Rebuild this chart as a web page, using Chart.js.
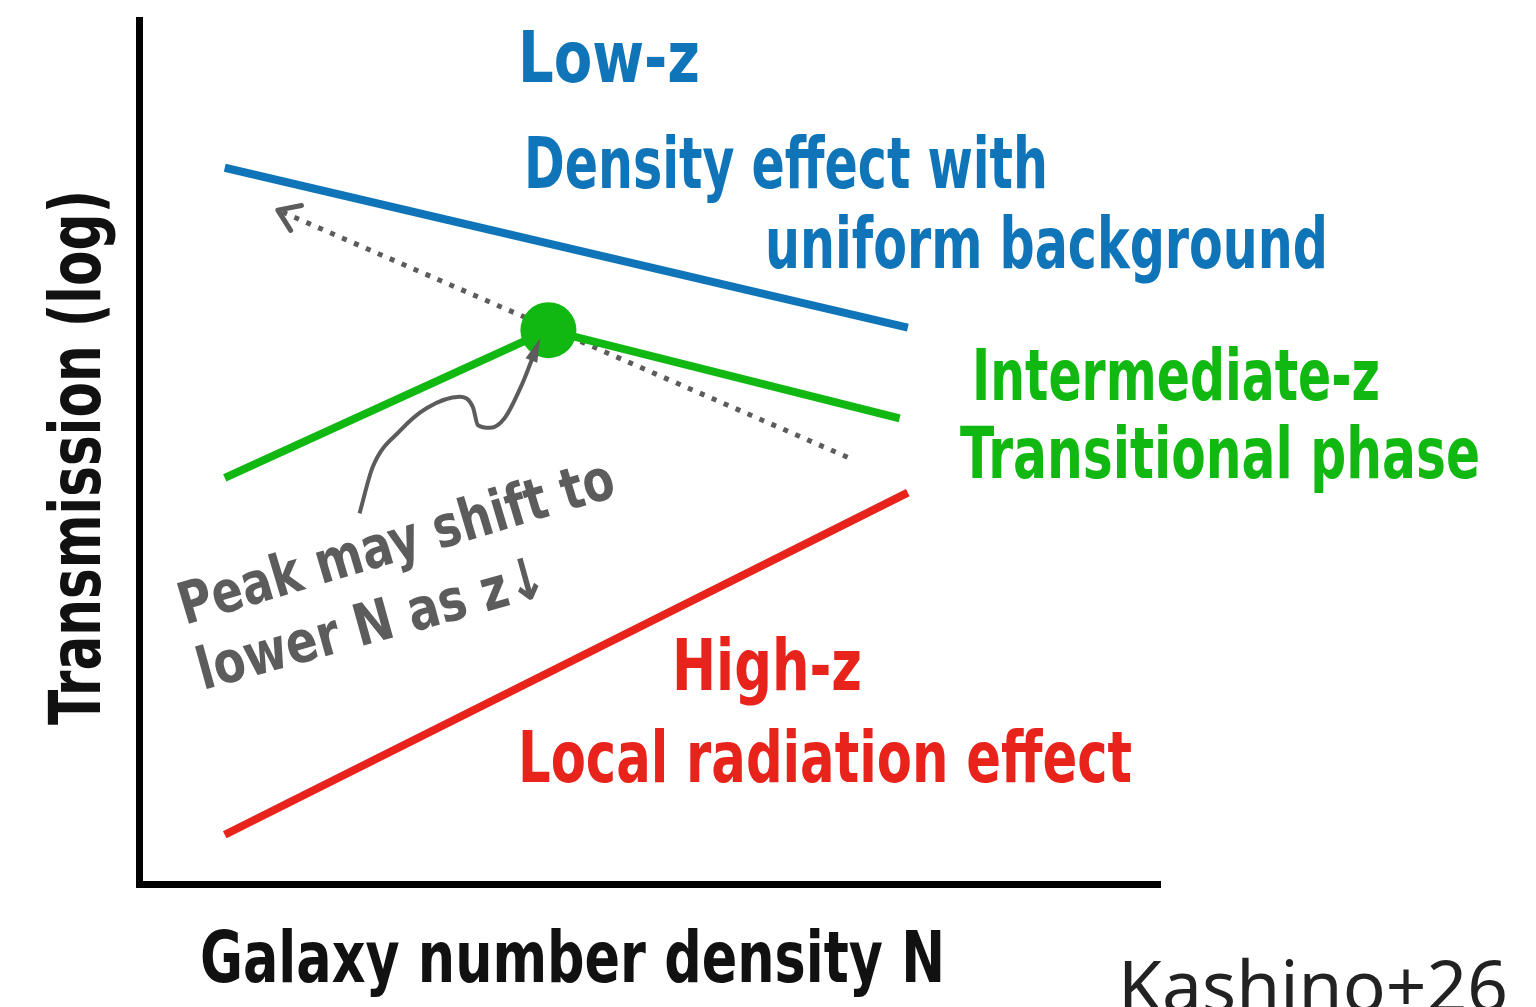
<!DOCTYPE html>
<html>
<head>
<meta charset="utf-8">
<script src="https://cdn.jsdelivr.net/npm/chart.js@4.4.1/dist/chart.umd.min.js"></script>
<style>
  html, body { margin: 0; padding: 0; background: #fff; }
  canvas { display: block; }
</style>
</head>
<body>
<canvas id="sketch" width="1536" height="1007"></canvas>
<script>
// schematic values, arbitrary units (x: galaxy number density N, y: log transmission)
const lowZ = [{x: 0.84, y: 8.29}, {x: 7.53, y: 6.44}];
const midZ = [{x: 0.84, y: 4.70}, {x: 4.01, y: 6.41}, {x: 7.45, y: 5.39}];
const highZ = [{x: 0.84, y: 0.57}, {x: 7.53, y: 4.53}];
const peakShift = [{x: 6.94, y: 4.94}, {x: 1.36, y: 7.80}];
const pointer = [
  {x: 2.16, y: 4.29}, {x: 2.29, y: 4.83}, {x: 2.56, y: 5.25}, {x: 2.82, y: 5.51},
  {x: 3.14, y: 5.64}, {x: 3.27, y: 5.52}, {x: 3.32, y: 5.31}, {x: 3.44, y: 5.28},
  {x: 3.58, y: 5.39}, {x: 3.75, y: 5.78}, {x: 3.88, y: 6.17}
];

const blue = "#0f74b8";
const green = "#12b812";
const red = "#e8231c";
const gray = "#5c5c5c";
const hand = "'Liberation Sans Narrow', 'DejaVu Sans Condensed', sans-serif";

// text drawn into a fixed width box
function fitText(ctx, txt, x, y, w, font, color, angle) {
  ctx.save();
  ctx.font = font;
  ctx.fillStyle = color;
  ctx.textBaseline = "alphabetic";
  ctx.translate(x, y);
  if (angle) ctx.rotate(angle);
  let m = ctx.measureText(txt).width;
  ctx.scale(w / m, 1);
  ctx.fillText(txt, 0, 0);
  ctx.restore();
}

const labels = {
  id: "labels",
  afterDraw(chart) {
    const ctx = chart.ctx;
    const xs = chart.scales.x, ys = chart.scales.y;

    // arrowhead on the dotted line (open chevron)
    let p0 = peakShift[0], p1 = peakShift[1];
    let ax = xs.getPixelForValue(p1.x), ay = ys.getPixelForValue(p1.y);
    let a = Math.atan2(ay - ys.getPixelForValue(p0.y), ax - xs.getPixelForValue(p0.x));
    ctx.save();
    ctx.strokeStyle = gray;
    ctx.lineWidth = 5;
    ctx.lineCap = "round";
    ctx.lineJoin = "round";
    ctx.beginPath();
    ctx.moveTo(ax - 24 * Math.cos(a - 0.6), ay - 24 * Math.sin(a - 0.6));
    ctx.lineTo(ax, ay);
    ctx.lineTo(ax - 24 * Math.cos(a + 0.6), ay - 24 * Math.sin(a + 0.6));
    ctx.stroke();

    // filled head on the curved pointer
    let n = pointer.length;
    let tx = xs.getPixelForValue(pointer[n - 1].x), ty = ys.getPixelForValue(pointer[n - 1].y);
    let b = Math.atan2(ty - ys.getPixelForValue(pointer[n - 2].y), tx - xs.getPixelForValue(pointer[n - 2].x));
    ctx.fillStyle = gray;
    ctx.beginPath();
    ctx.moveTo(tx + 14 * Math.cos(b), ty + 14 * Math.sin(b));
    ctx.lineTo(tx - 12 * Math.cos(b - 0.55), ty - 12 * Math.sin(b - 0.55));
    ctx.lineTo(tx - 12 * Math.cos(b + 0.55), ty - 12 * Math.sin(b + 0.55));
    ctx.closePath();
    ctx.fill();
    ctx.restore();

    const f = "bold 72px " + hand;
    fitText(ctx, "Low-z", 518, 82, 182, f, blue);
    fitText(ctx, "Density effect with", 524, 188, 524, f, blue);
    fitText(ctx, "uniform background", 765, 268, 563, f, blue);
    fitText(ctx, "Intermediate-z", 972, 400, 408, f, green);
    fitText(ctx, "Transitional phase", 960, 478, 520, f, green);
    fitText(ctx, "High-z", 672, 690, 190, f, red);
    fitText(ctx, "Local radiation effect", 518, 782, 614, f, red);

    fitText(ctx, "Galaxy number density N", 200, 982, 745, f, "#111");
    fitText(ctx, "Transmission (log)", 100, 725, 535, f, "#111", -Math.PI / 2);

    const g = "bold 58px " + hand;
    fitText(ctx, "Peak may shift to", 185, 625, 452, g, gray, -0.29);
    fitText(ctx, "lower N as z\u2193", 203, 690, 360, g, gray, -0.27);

    fitText(ctx, "Kashino+26", 1118, 1012, 390, "400 72px 'Noto Sans', sans-serif", "#222");
  }
};

new Chart(document.getElementById("sketch"), {
  type: "line",
  data: {
    datasets: [
      {
        label: "Low-z",
        data: lowZ,
        borderColor: blue,
        borderWidth: 8,
        pointRadius: 0,
      },
      {
        label: "Intermediate-z",
        data: midZ,
        borderColor: green,
        backgroundColor: green,
        borderWidth: 8,
        pointRadius: [0, 28, 0],
        pointBorderWidth: 0,
      },
      {
        label: "High-z",
        data: highZ,
        borderColor: red,
        borderWidth: 8,
        pointRadius: 0,
      },
      {
        label: "Peak shift",
        data: peakShift,
        borderColor: gray,
        borderWidth: 5,
        borderDash: [5, 8],
        pointRadius: 0,
      },
      {
        label: "pointer",
        data: pointer,
        borderColor: gray,
        borderWidth: 4,
        cubicInterpolationMode: "monotone",
        pointRadius: 0,
      },
    ]
  },
  options: {
    responsive: false,
    animation: false,
    layout: {
      padding: {left: 139, right: 376, top: 20, bottom: 123},
    },
    plugins: {
      legend: {display: false},
      tooltip: {enabled: false},
    },
    scales: {
      x: {
        type: "linear",
        min: 0,
        max: 10,
        grid: {display: false},
        ticks: {display: false},
        border: {color: "#000", width: 7},
        afterFit(s) { s.height = 0; },
      },
      y: {
        type: "linear",
        min: 0,
        max: 10,
        grid: {display: false},
        ticks: {display: false},
        border: {color: "#000", width: 7},
        afterFit(s) { s.width = 0; },
      },
    },
  },
  plugins: [labels],
});
</script>
</body>
</html>
